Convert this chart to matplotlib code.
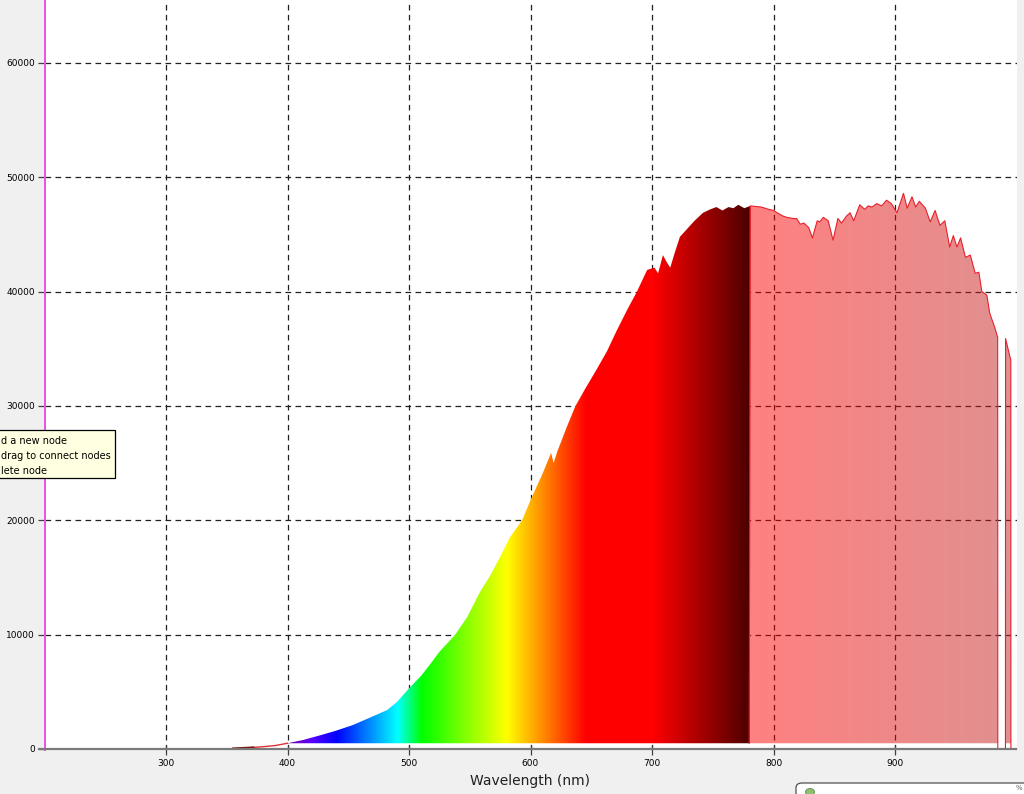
"""
Spectrum plot recreation: spectral colour fill up to 780 nm, pink overlay beyond
"""

import matplotlib
matplotlib.use("Agg")
import matplotlib.pyplot as plt
from matplotlib.patches import Rectangle, FancyBboxPatch, Circle
from matplotlib.lines import Line2D
import numpy as np

# Values (wavelength in nm, counts)
wavelength = [350, 360, 370, 380, 390, 400, 413, 427, 440, 454, 468, 482, 490, 500,
              510, 517, 525, 532, 538, 548, 558, 567, 575, 583, 593, 601, 610, 617,
              619, 622, 630, 637, 645, 655, 663, 671, 680, 687.6, 692, 696, 702, 705,
              709, 712, 715, 719, 723, 729, 735, 742, 748, 753, 758, 763, 767, 771,
              776, 781, 790, 796, 800, 803, 808, 811, 816, 819, 822, 825, 829, 832,
              836, 838, 841, 845, 849, 853, 856, 860, 863, 866, 871, 875, 878, 881,
              885, 889, 893, 897, 901.6, 907, 910, 914, 917, 920, 925, 929, 933, 937,
              941, 945, 948, 951, 954, 958, 962, 966, 969, 971.5, 975.6, 978, 982,
              984.5, 984.6, 990.9, 991, 995.3, 995.4, 1000]
counts = [0, 50, 120, 200, 300, 500, 790, 1200, 1600, 2100, 2750, 3400, 4100, 5300,
          6400, 7350, 8500, 9300, 10000, 11550, 13650, 15200, 16800, 18500, 20000,
          22000, 24100, 25900, 25000, 26000, 28200, 30000, 31500, 33300, 34800, 36600,
          38500, 40000, 41000, 41900, 42100, 41600, 43200, 42600, 42100, 43500, 44800,
          45500, 46200, 46900, 47200, 47400, 47100, 47400, 47300, 47600, 47300, 47500,
          47400, 47200, 47100, 46900, 46600, 46500, 46400, 46400, 45900, 46000, 45600,
          44700, 46200, 46100, 46500, 46200, 44500, 46400, 46000, 46600, 46900, 46200,
          47600, 47200, 47500, 47400, 47700, 47500, 48000, 47700, 46900, 48600, 47300,
          48300, 47400, 47900, 47300, 46100, 47100, 45800, 46200, 43900, 44900, 43900,
          44700, 43000, 43200, 41600, 41700, 40000, 39700, 38100, 36900, 36000, 0, 0,
          35900, 34000, 0, 0]

x_ticks = [300, 400, 500, 600, 700, 800, 900]
y_ticks = [0, 10000, 20000, 30000, 40000, 50000, 60000]
tooltip_lines = ["d a new node", "drag to connect nodes", "lete node"]

SPECTRUM_START = 400
SPECTRUM_END = 780


def wavelength_rgb(wl):
    """Dan Bruton style wavelength -> RGB (no gamma)"""
    if wl < 440:
        r, g, b = -(wl - 440) / (440 - 380), 0.0, 1.0
    elif wl < 490:
        r, g, b = 0.0, (wl - 440) / (490 - 440), 1.0
    elif wl < 510:
        r, g, b = 0.0, 1.0, -(wl - 510) / (510 - 490)
    elif wl < 580:
        r, g, b = (wl - 510) / (580 - 510), 1.0, 0.0
    elif wl < 645:
        r, g, b = 1.0, -(wl - 645) / (645 - 580), 0.0
    else:
        r, g, b = 1.0, 0.0, 0.0
    if wl < 420:
        f = 0.3 + 0.7 * (wl - 380) / (420 - 380)
    elif wl > 700:
        f = 0.3 + 0.7 * (780 - wl) / (780 - 700)
    else:
        f = 1.0
    return (r * f, g * f, b * f)


W, H = 1024, 794
fig = plt.figure(figsize=(W / 100, H / 100), dpi=100, facecolor='#f0f0f0')

ax_left, ax_right, ax_bottom = 44.5, 1016.5, 750
ax = fig.add_axes([ax_left / W, (H - ax_bottom) / H, (ax_right - ax_left) / W, ax_bottom / H])
ax.set_facecolor('white')

ymin, ymax = -90, 65510
ax.set_xlim(200, 1000)
ax.set_ylim(ymin, ymax)

# grid behind everything
ax.set_axisbelow(True)
ax.grid(True, color='#202020', linestyle=(0, (4.5, 3.5)), linewidth=0.9)

wl = np.array(wavelength)
ct = np.array(counts)
base = 500

poly = ax.fill_between(wl, base, np.maximum(ct, base), facecolor='none', edgecolor='none',
                       zorder=2)
clip = poly.get_paths()[0]

# spectral gradient
grid_wl = np.linspace(SPECTRUM_START, SPECTRUM_END, 600)
spec_img = np.array([[wavelength_rgb(w) for w in grid_wl]])
im = ax.imshow(spec_img, extent=[SPECTRUM_START, SPECTRUM_END, 0, ymax], aspect='auto',
               interpolation='bilinear', zorder=2)
im.set_clip_path(clip, transform=ax.transData)

# translucent pink region beyond 780 nm
t = np.linspace(0, 1, 200)
pink = np.zeros((1, len(t), 4))
pink[0, :, 0] = 1.0 - t * (62 / 255)
pink[0, :, 1] = t * (33 / 255)
pink[0, :, 2] = t * (33 / 255)
pink[0, :, 3] = 0.5
im2 = ax.imshow(pink, extent=[SPECTRUM_END, 1000, 0, ymax], aspect='auto',
                interpolation='bilinear', zorder=3)
im2.set_clip_path(clip, transform=ax.transData)

# red outlines
m_hi = wl >= SPECTRUM_END
ax.plot(np.r_[SPECTRUM_END, wl[m_hi]], np.r_[base, ct[m_hi]], color='#e8202a', lw=0.8,
        zorder=4)
m_lo = wl <= SPECTRUM_START
ax.plot(wl[m_lo], ct[m_lo], color='#e03030', lw=1.0, zorder=4)
ax.plot([355, 372], [60, 150], color='#7a1010', lw=1.2, zorder=4)

# magenta marker line at 200 nm
ax.axvline(200.4, color='#e454e4', lw=1.4, zorder=6, clip_on=False)

for s in ['top', 'right', 'left']:
    ax.spines[s].set_visible(False)
ax.spines['bottom'].set_visible(False)
fig.lines.append(Line2D([39 / W, 1016 / W], [1 - 749 / H, 1 - 749 / H],
                        transform=fig.transFigure, color='#7a7a7a', lw=1.6, zorder=5))

ax.set_xticks(x_ticks)
ax.set_yticks(y_ticks)
ax.set_xticklabels([str(v) for v in x_ticks])
ax.set_yticklabels([str(v) for v in y_ticks])
ax.tick_params(axis='x', direction='inout', length=7, width=0.9, color='#404040',
               labelsize=6.5, pad=3)
ax.tick_params(axis='y', direction='out', length=5, width=0.9, color='#404040',
               labelsize=6.5, pad=2)

fig.text(530 / W, 1 - 781 / H, 'Wavelength (nm)', ha='center', va='center', fontsize=10,
         color='#202020')

# tooltip box on the left
fig.patches.append(Rectangle((-0.01, 1 - 478 / H), 115 / W + 0.01, 48 / H,
                             transform=fig.transFigure, facecolor='#ffffe1',
                             edgecolor='black', lw=0.9, zorder=10))
for i, line in enumerate(tooltip_lines):
    fig.text(1 / W, 1 - (441 + 15 * i) / H, line, ha='left', va='center', fontsize=7,
             color='black', zorder=11)

# partial popup at bottom-right
fig.patches.append(FancyBboxPatch((796 / W, -0.02), 0.3, 0.02 + 11 / H,
                                  boxstyle='round,pad=0,rounding_size=0.006',
                                  transform=fig.transFigure, facecolor='white',
                                  edgecolor='#505050', lw=0.9, zorder=10))
fig.patches.append(Circle((810 / W, 1 - 792 / H), 4.5 / W, transform=fig.transFigure,
                          facecolor='#8fbf6f', edgecolor='#5a8a4a', lw=0.6, zorder=11))
fig.text(1019 / W, 1 - 788 / H, '%', fontsize=5, ha='center', va='center',
         color='#606060', zorder=11)

fig.savefig('out.png', dpi=100, facecolor=fig.get_facecolor())
